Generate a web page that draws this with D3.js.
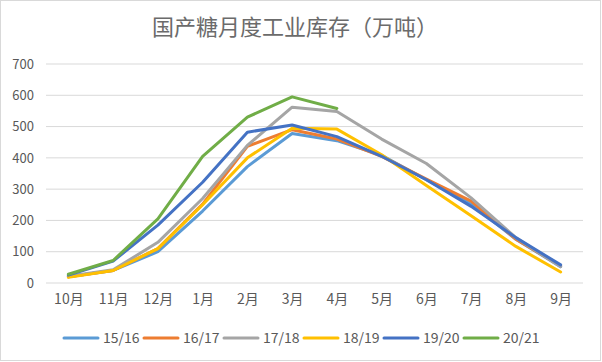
<!DOCTYPE html>
<meta charset="utf-8">
<head>
	<style>
		body { margin: 0; font-family: "Noto Sans CJK SC", "Noto Sans", sans-serif; }
		svg { display: block; }
	</style>
	<script src="https://cdn.jsdelivr.net/npm/d3@7"></script>
</head>
<body>
	<svg id="chart"></svg>
</body>
<script>

let months = ["10月","11月","12月","1月","2月","3月","4月","5月","6月","7月","8月","9月"]
let seasons = ["15/16","16/17","17/18","18/19","19/20","20/21"]
let colors = ["#5B9BD5","#ED7D31","#A5A5A5","#FFC000","#4472C4","#70AD47"]
let yTicks = [0,100,200,300,400,500,600,700]

let s1516 = [20, 40, 100, 230, 372, 478, 455, 408, 330, 252, 140, 52]
let s1617 = [20, 40, 110, 252, 437, 490, 460, 405, 332, 262, 140, 55]
let s1718 = [22, 42, 130, 270, 440, 562, 548, 460, 382, 272, 145, 52]
let s1819 = [18, 40, 110, 250, 400, 495, 492, 410, 312, 215, 117, 35]
let s1920 = [25, 70, 185, 322, 482, 505, 468, 405, 330, 245, 145, 58]
let s2021 = [28, 72, 205, 405, 530, 595, 558]

let seriesValues = [s1516, s1617, s1718, s1819, s1920, s2021]

function drawChart(){
	let width = 602, height = 362
	let margin = {top: 64, bottom: 79, left: 46, right: 19}
	let bodyWidth = width - margin.left - margin.right
	let bodyHeight = height - margin.top - margin.bottom

	let svg = d3.select("#chart").attr("width", width).attr("height", height)

	svg.append("rect")
		.attr("x", 0.5).attr("y", 0.5)
		.attr("width", width - 2).attr("height", height - 2)
		.attr("fill", "white").attr("stroke", "#d9d9d9")

	svg.append("text")
		.attr("x", 295).attr("y", 35)
		.attr("text-anchor", "middle")
		.attr("font-size", "22px")
		.attr("fill", "#6b6b6b")
		.text("国产糖月度工业库存（万吨）")

	let xScale = d3.scalePoint().domain(months).range([0, bodyWidth]).padding(0.5)
	let yScale = d3.scaleLinear().domain([0, 700]).range([bodyHeight, 0])

	let body = svg.append("g").attr("transform", `translate(${margin.left},${margin.top})`)

	// gridlines
	body.selectAll(".grid").data(yTicks).enter().append("line")
		.attr("x1", 0).attr("x2", bodyWidth)
		.attr("y1", d => yScale(d)).attr("y2", d => yScale(d))
		.attr("stroke", "#d9d9d9").attr("stroke-width", 1)

	// y axis labels
	let axisY = d3.axisLeft(yScale).tickValues(yTicks).tickSize(0).tickPadding(12)
	let gy = body.append("g").call(axisY)
	gy.select(".domain").remove()
	gy.selectAll("text").attr("font-size", "13px").attr("fill", "#595959")
		.attr("font-family", "\"Noto Sans CJK SC\", sans-serif")

	// x axis labels
	let axisX = d3.axisBottom(xScale).tickSize(0).tickPadding(11)
	let gx = body.append("g").attr("transform", `translate(0,${bodyHeight})`).call(axisX)
	gx.select(".domain").remove()
	gx.selectAll("text").attr("font-size", "14px").attr("fill", "#595959")
		.attr("font-family", "\"Noto Sans CJK SC\", sans-serif")

	let line = d3.line()
		.x((d, i) => xScale(months[i]))
		.y(d => yScale(d))

	seriesValues.forEach((vals, k) => {
		body.append("path")
			.datum(vals)
			.attr("d", line)
			.attr("fill", "none")
			.attr("stroke", colors[k])
			.attr("stroke-width", 3)
			.attr("stroke-linejoin", "round")
			.attr("stroke-linecap", "round")
	})

	// legend
	let legend = svg.append("g").attr("transform", "translate(63,338)")
	let items = legend.selectAll(".item").data(seasons).enter().append("g")
		.attr("transform", (d, i) => `translate(${i * 80},0)`)
	items.append("line")
		.attr("x1", 1).attr("x2", 35).attr("y1", 0).attr("y2", 0)
		.attr("stroke", (d, i) => colors[i]).attr("stroke-width", 3)
		.attr("stroke-linecap", "round")
	items.append("text")
		.attr("x", 40).attr("y", 5)
		.attr("font-size", "14px").attr("fill", "#595959")
		.text(d => d)
}

drawChart()

</script>
